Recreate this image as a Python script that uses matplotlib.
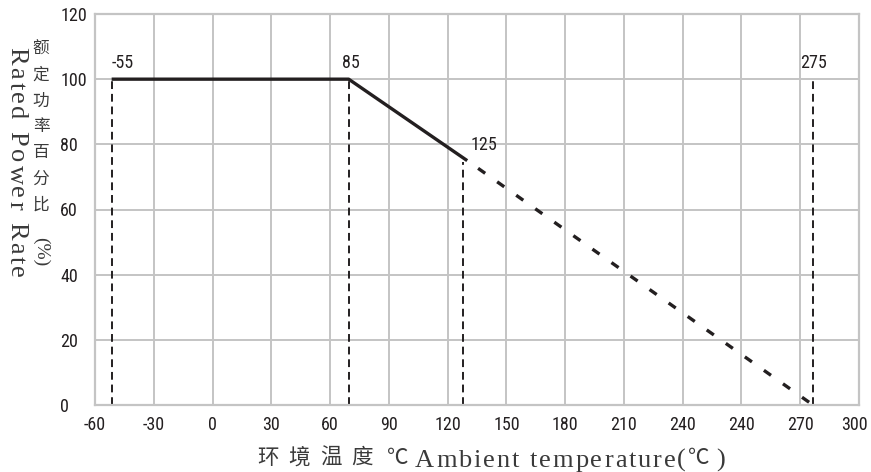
import matplotlib
matplotlib.use("Agg")
import matplotlib.pyplot as plt
from matplotlib import font_manager as fm
from matplotlib.font_manager import FontProperties
import matplotlib.transforms as mtransforms

# ---------------- data ----------------
x_ticks = [-60, -30, 0, 30, 60, 90, 120, 150, 180, 210, 240, 270, 300, 330]
x_tick_labels = ["-60", "-30", "0", "30", "60", "90", "120", "150", "180", "210", "240", "240", "270", "300"]
y_ticks = [0, 20, 40, 60, 80, 100, 120]
solid_x = [-51.5, 69.5, 130]
solid_y = [100, 100, 75]
dotted_x = [130, 306.5]
dotted_y = [75, 0]
vline_x = [-51.5, 69.5, 128, 306.5]
vline_top = [100, 100, 74.5, 100]
point_labels = ["-55", "85", "125", "275"]
label_x = [-46, 70.7, 138.3, 306.8]
label_y = [105, 105, 79.8, 105]
ylabel_en = "Rated Power Rate"
ylabel_cn = "额定功率百分比"
ylabel_unit = "(%)"
xlabel_cn = "环境温度"
xlabel_unit = "℃"
xlabel_en = "Ambient temperature("
xlabel_en_unit = "℃"
xlabel_en_close = ")"

# ---------------- fonts ----------------
def find_narrow():
    prefs = ["liberation sans narrow", "roboto condensed", "dejavu sans condensed",
             "open sans condensed", "noto sans condensed"]
    cands = []
    for f in fm.fontManager.ttflist:
        nm = f.name.lower()
        fn = f.fname.lower()
        if f.style != "normal" or f.weight not in (400, "normal", "regular", "book"):
            continue
        if ("narrow" in nm or "condensed" in nm or "narrow" in fn or "condensed" in fn
                or f.stretch in ("condensed", "semi-condensed")):
            if "bold" in fn or "italic" in fn or "oblique" in fn or "light" in fn or "semi" in fn:
                continue
            cands.append(f)
    for p in prefs:
        for f in cands:
            if p in f.name.lower() or p.replace(" ", "") in f.fname.lower().replace("-", "").replace("_", ""):
                return f
    return cands[0] if cands else None

nf = find_narrow()
if nf is not None and "liberation" in nf.fname.lower():
    NUM_FP = FontProperties(fname=nf.fname, size=14)
elif nf is not None:
    NUM_FP = FontProperties(fname=nf.fname, size=13)
else:
    NUM_FP = FontProperties(family="Liberation Sans", size=12.3)

CJK = ["Noto Sans CJK SC", "DejaVu Sans"]
SERIF = ["Liberation Serif", "DejaVu Serif"]
TXT = "#231f20"
LAB = "#3a3a3a"

W, H = 871, 472
fig = plt.figure(figsize=(W / 100, H / 100), dpi=100)
ax = fig.add_axes([95 / W, 1 - 405 / H, (859 - 95) / W, (405 - 14) / H])
ax.set_xlim(-60, 330)
ax.set_ylim(0, 120)

gc = "#c4c4c4"
ax.set_xticks(x_ticks)
ax.set_xticklabels(x_tick_labels)
ax.set_yticks(y_ticks)
ax.grid(True, color=gc, linewidth=1.4)
ax.set_axisbelow(True)
for s in ax.spines.values():
    s.set_color(gc)
    s.set_linewidth(1.6)
ax.tick_params(length=0, labelcolor=TXT)
ax.tick_params(axis="x", pad=8)
ax.tick_params(axis="y", pad=25)
for lab in ax.get_xticklabels() + ax.get_yticklabels():
    lab.set_fontproperties(NUM_FP)
for lab in ax.get_yticklabels():
    lab.set_ha("left")
last = ax.get_xticklabels()[-1]
last.set_transform(last.get_transform() + mtransforms.ScaledTranslation(-5 / 100, 0, fig.dpi_scale_trans))

for xv, yt in zip(vline_x, vline_top):
    ax.plot([xv, xv], [0, yt], color=TXT, linewidth=1.4, linestyle=(0, (4, 2.5)))

ax.plot(solid_x, solid_y, color=TXT, linewidth=2.4, solid_capstyle="butt")
ax.plot(dotted_x, dotted_y, color=TXT, linewidth=2.4, linestyle=(3, (2.6, 4.4)))

for t, xv, yv in zip(point_labels, label_x, label_y):
    ax.text(xv, yv, t, ha="center", va="center", fontproperties=NUM_FP, color=TXT)

# ---------------- letter-spaced text helper ----------------
renderer = fig.canvas.get_renderer()

def width_px(s, kw):
    t1 = fig.text(0, 0, "x" + s + "x", **kw)
    t2 = fig.text(0, 0, "xx", **kw)
    w = t1.get_window_extent(renderer).width - t2.get_window_extent(renderer).width
    t1.remove(); t2.remove()
    return w

def tracked(s, start, end, base, kw, rotation=0, color=LAB, va="baseline"):
    # prefix widths keep the font's own kerning; extra spacing is spread evenly
    prefix = [width_px(s[:i], kw) if i else 0.0 for i in range(len(s) + 1)]
    gap = (abs(end - start) - prefix[-1]) / max(len(s) - 1, 1)
    for i, c in enumerate(s):
        pos = start + prefix[i] + gap * i
        if rotation == 0:
            fig.text(pos / W, 1 - base / H, c, ha="left", va=va, color=color, **kw)
        else:
            fig.text(base / W, 1 - pos / H, c, ha="left", va=va, rotation=270,
                     rotation_mode="anchor", color=color, **kw)

LAT_KW = dict(family=SERIF, fontsize=19)
CJK_KW = dict(family=CJK, fontsize=15.5)

# x-axis title
tracked(xlabel_cn, 257, 373, 458, CJK_KW, va="center")
fig.text(387 / W, 1 - 458 / H, xlabel_unit, ha="left", va="center", color=LAB, **CJK_KW)
tracked(xlabel_en, 415, 686, 467, LAT_KW)
fig.text(688 / W, 1 - 458 / H, xlabel_en_unit, ha="left", va="center", color=LAB, **CJK_KW)
fig.text(725 / W, 1 - 467 / H, xlabel_en_close, ha="right", va="baseline", color=LAB, **LAT_KW)
# y-axis English title (rotated, reading downward)
tracked(ylabel_en, 47, 278, 10, LAT_KW, rotation=270)
# y-axis Chinese title, stacked upright characters
cn_top, cn_bot = 49, 205
n = len(ylabel_cn)
for i, c in enumerate(ylabel_cn):
    yy = cn_top + (cn_bot - cn_top) * i / (n - 1)
    fig.text(41 / W, 1 - yy / H, c, ha="center", va="center", family=CJK, fontsize=12, color=LAB)
fig.text(41 / W, 1 - 252 / H, ylabel_unit, rotation=270, ha="center", va="center",
         family=SERIF, fontsize=14, color=LAB)

fig.savefig("out.png", dpi=100)
